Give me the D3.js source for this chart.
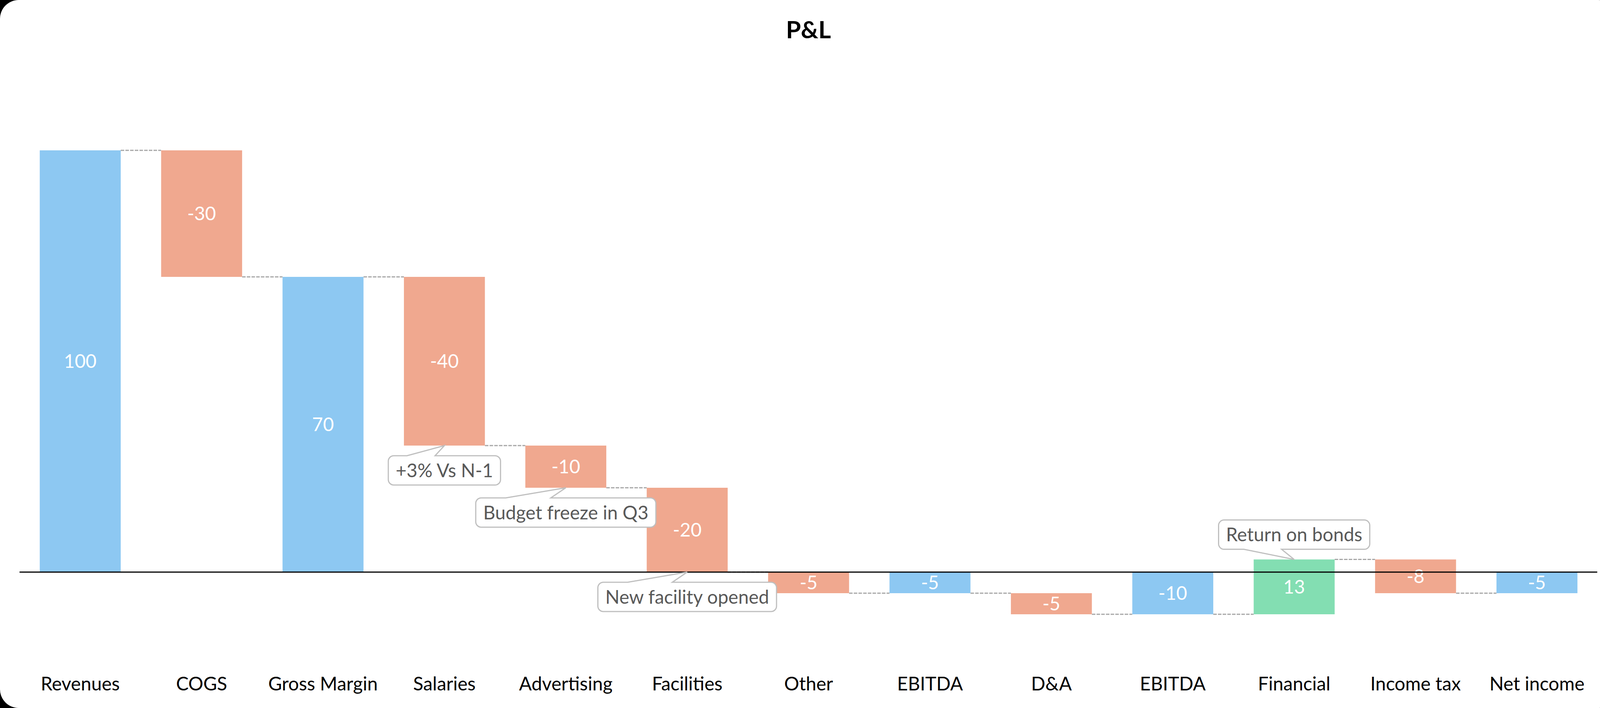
<!DOCTYPE html>
<html>
<head>
<meta charset="utf-8">
<script src="https://cdn.jsdelivr.net/npm/d3@7"></script>
<style>
    body { margin: 0; background: #000; overflow: hidden; }
    text { font-family: Lato, "Open Sans", sans-serif; }
</style>
</head>
<body>
<div id="chart"></div>
<script>
// Chart data
var categories = ["Revenues", "COGS", "Gross Margin", "Salaries", "Advertising", "Facilities",
    "Other", "EBITDA", "D&A", "EBITDA ", "Financial", "Income tax", "Net income"];
var values = [100, -30, 70, -40, -10, -20, -5, -5, -5, -10, 13, -8, -5];
var kinds = ["total", "delta", "total", "delta", "delta", "delta",
    "delta", "total", "delta", "total", "delta", "delta", "total"];

// Callouts: category index, text, whether box sits below or above the bar
var noteIndex = [3, 4, 5, 10];
var noteText = ["+3% Vs N-1", "Budget freeze in Q3", "New facility opened", "Return on bonds"];
var notePlace = ["below", "below", "below", "above"];

// Define svg container dimensions
var svgWidth = 4139;
var svgHeight = 1813;

var colors = {
    total: "#8DC8F2",
    down: "#F0A88F",
    up: "#83DEB2"
};

var svg = d3.select("#chart")
    .append("svg")
    .attr("width", svgWidth)
    .attr("height", svgHeight);

// White card with rounded corners
svg.append("rect")
    .attr("width", svgWidth)
    .attr("height", svgHeight)
    .attr("rx", 48)
    .attr("fill", "#fff");

// Title
svg.append("text")
    .attr("x", svgWidth / 2)
    .attr("y", 98)
    .attr("text-anchor", "middle")
    .style("font-size", "62px")
    .style("font-weight", 700)
    .attr("fill", "#000")
    .text("P&L");

// Build running totals for the waterfall
var data = [];
var running = 0;
categories.forEach(function (c, i) {
    var start, end;
    if (kinds[i] === "total") {
        start = 0;
        end = values[i];
    } else {
        start = running;
        end = running + values[i];
    }
    running = end;
    data.push({ name: c, value: values[i], kind: kinds[i], start: start, end: end });
});

// Scales
var xScale = d3.scaleBand()
    .domain(categories)
    .range([50, 4090])
    .paddingInner(0.333)
    .paddingOuter(0.1665);

var yScale = d3.scaleLinear()
    .domain([-20, 110])
    .range([1681, 277]);

function barColor(d) {
    if (d.kind === "total") return colors.total;
    return d.value < 0 ? colors.down : colors.up;
}

// Dashed connectors between bars
var links = data.slice(0, -1).map(function (d, i) {
    return { x1: xScale(d.name) + xScale.bandwidth(), x2: xScale(data[i + 1].name), level: d.end };
});

svg.append("g")
    .selectAll("line")
    .data(links)
    .enter()
    .append("line")
    .attr("x1", d => d.x1)
    .attr("x2", d => d.x2)
    .attr("y1", d => yScale(d.level))
    .attr("y2", d => yScale(d.level))
    .attr("stroke", "#A6A6A6")
    .attr("stroke-width", 3)
    .attr("stroke-dasharray", "9 3");

// Bars
var barsGroup = svg.append("g")
    .selectAll("g")
    .data(data)
    .enter()
    .append("g");

barsGroup.append("rect")
    .attr("x", d => xScale(d.name))
    .attr("width", xScale.bandwidth())
    .attr("y", d => yScale(Math.max(d.start, d.end)))
    .attr("height", d => Math.abs(yScale(d.start) - yScale(d.end)))
    .attr("fill", barColor);

// Zero line
svg.append("line")
    .attr("x1", 50)
    .attr("x2", 4089)
    .attr("y1", yScale(0))
    .attr("y2", yScale(0))
    .attr("stroke", "#000")
    .attr("stroke-width", 3);

// Value labels
barsGroup.append("text")
    .attr("x", d => xScale(d.name) + xScale.bandwidth() / 2)
    .attr("y", d => (yScale(d.start) + yScale(d.end)) / 2 + 17)
    .attr("text-anchor", "middle")
    .attr("fill", "#fff")
    .style("font-size", "48px")
    .text(d => d.value);

// Category axis
var bottomAxis = d3.axisBottom(xScale)
    .tickSize(0)
    .tickPadding(0)
    .tickFormat(d => d.trim());

var xAxis = svg.append("g")
    .attr("transform", "translate(0, 1734)")
    .call(bottomAxis);

xAxis.select(".domain").remove();
xAxis.selectAll("text")
    .style("font-size", "48px")
    .style("font-family", "Lato, 'Open Sans', sans-serif")
    .attr("fill", "#000");

// Callouts
var notesGroup = svg.append("g");

noteIndex.forEach(function (idx, k) {
    var d = data[idx];
    var cx = xScale(d.name) + xScale.bandwidth() / 2;
    var below = notePlace[k] === "below";
    var tipY = below ? yScale(Math.min(d.start, d.end)) : yScale(Math.max(d.start, d.end));

    var g = notesGroup.append("g");
    var shape = g.append("path");
    var label = g.append("text")
        .attr("text-anchor", "middle")
        .attr("fill", "#595959")
        .style("font-size", "48px")
        .text(noteText[k]);

    var w = label.node().getComputedTextLength() + 38;
    var h = 75;
    var r = 14;
    var x0 = cx - w / 2;
    var x1 = cx + w / 2;
    var y0 = below ? tipY + 26 : tipY - 26 - h;
    var y1 = y0 + h;
    var b1 = x0 + w / 6;
    var b2 = x0 + w * 5 / 12;

    var p = d3.path();
    p.moveTo(x0 + r, y0);
    if (below) {
        p.lineTo(b1, y0);
        p.lineTo(cx, tipY);
        p.lineTo(b2, y0);
    }
    p.lineTo(x1 - r, y0);
    p.arcTo(x1, y0, x1, y0 + r, r);
    p.lineTo(x1, y1 - r);
    p.arcTo(x1, y1, x1 - r, y1, r);
    if (!below) {
        p.lineTo(b2, y1);
        p.lineTo(cx, tipY);
        p.lineTo(b1, y1);
    }
    p.lineTo(x0 + r, y1);
    p.arcTo(x0, y1, x0, y1 - r, r);
    p.lineTo(x0, y0 + r);
    p.arcTo(x0, y0, x0 + r, y0, r);
    p.closePath();

    shape.attr("d", p.toString())
        .attr("fill", "#fff")
        .attr("stroke", "#BFBFBF")
        .attr("stroke-width", 3);

    label.attr("x", cx)
        .attr("y", y0 + h / 2 + 17);
});
</script>
</body>
</html>
